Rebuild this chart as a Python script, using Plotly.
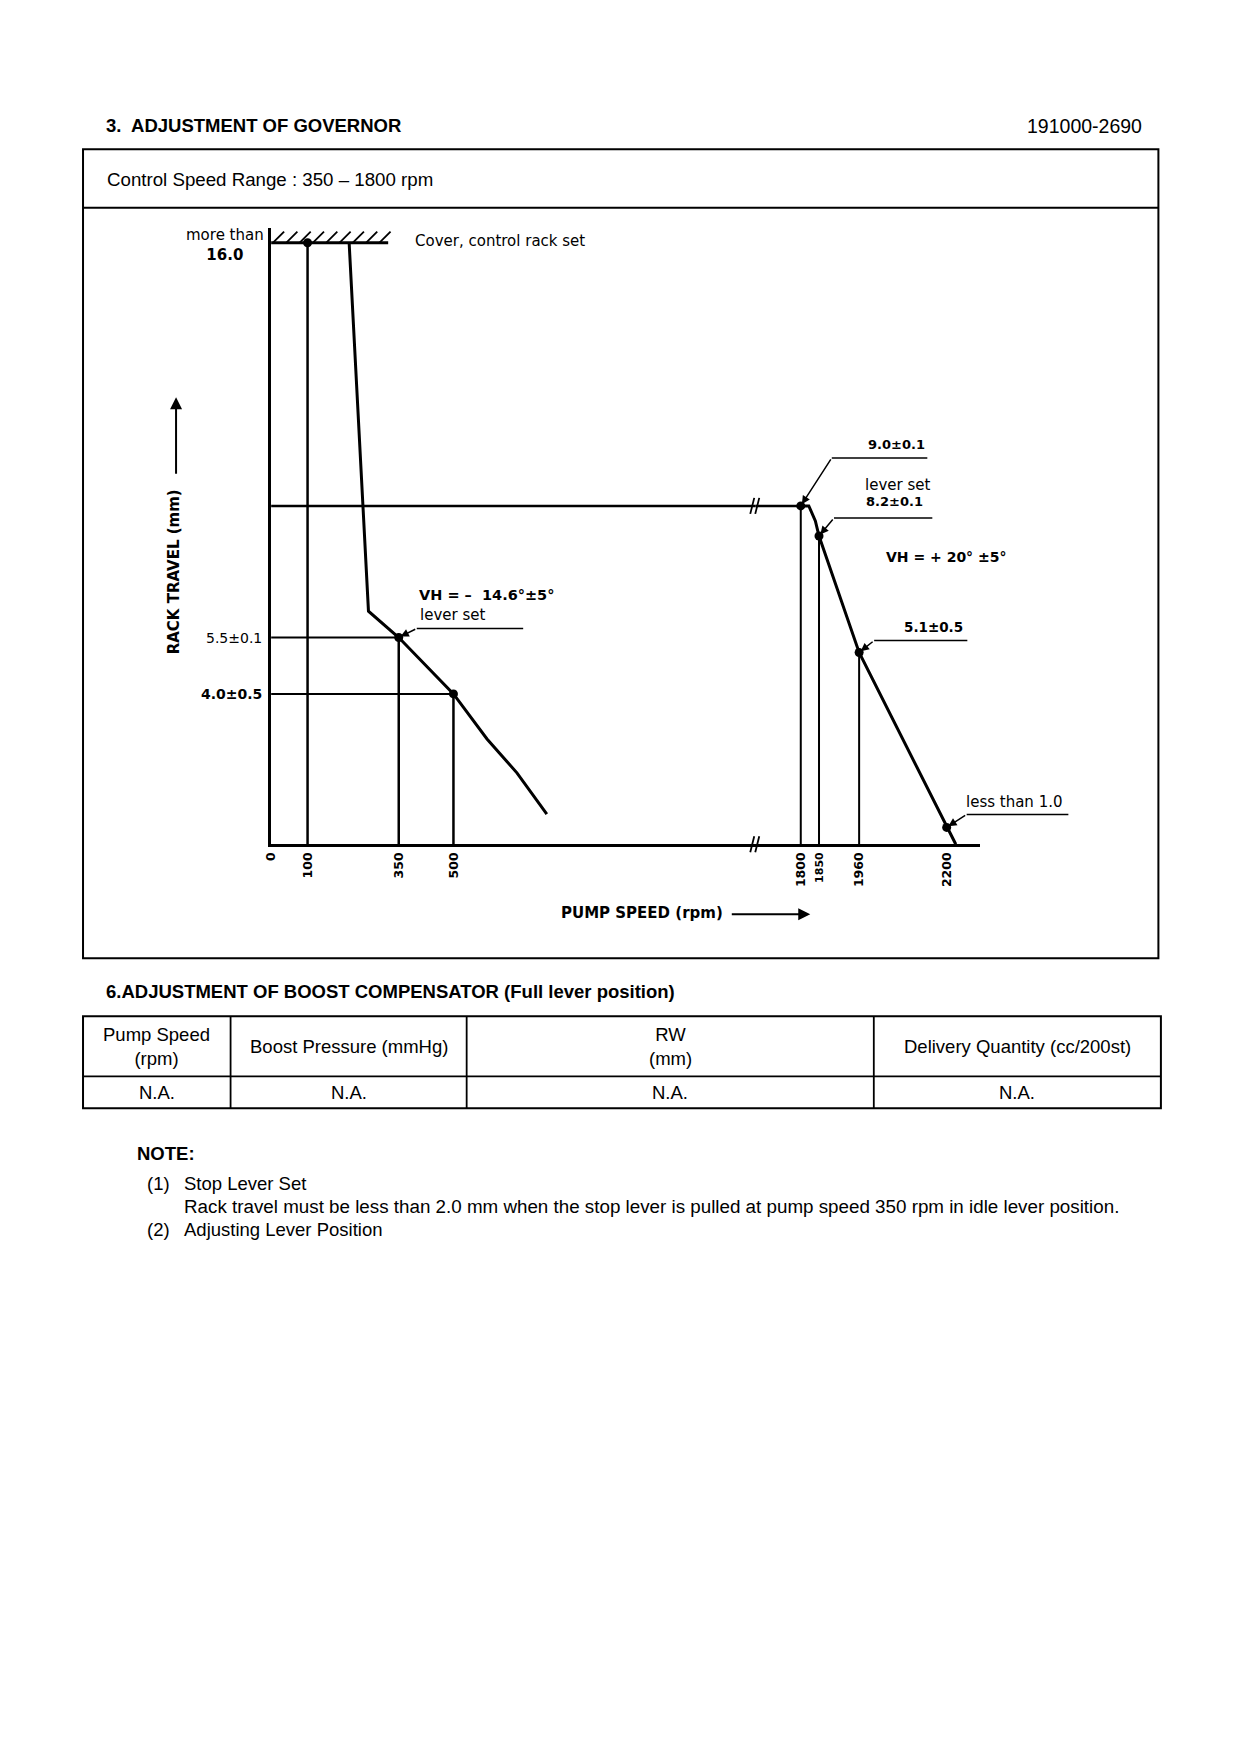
import plotly.graph_objects as go

W, H = 1240, 1754

# ------------------------------------------------------------------ data
# idle-side governor curve (pump speed rpm, rack travel mm)
idle_speed = [214, 267, 350, 500, 592, 674, 756]
idle_rack = [16.0, 6.2, 5.5, 4.0, 2.8, 1.9, 0.8]
# full-load / high-speed governor curve
full_speed = [1800, 1822, 1840, 1850, 1960, 2200, 2225]
full_rack = [9.0, 9.0, 8.6, 8.2, 5.1, 0.45, 0.0]

# adjustment set points
idle_set_speed = [100, 350, 500]
idle_set_rack = [16.0, 5.5, 4.0]
full_set_speed = [1800, 1850, 1960, 2200]
full_set_rack = [9.0, 8.2, 5.1, 0.45]

# cover / control rack set line
cover_rack = 16.0
cover_speed = [0, 321]
# full-load rack horizontal reference
full_load_rack = 9.0
full_load_speed = [0, 1800]

left_ticks = [0, 100, 350, 500]
right_ticks = [1800, 1850, 1960, 2200]
right_ticktext = ["1800", "<span style='font-size:11px'>1850</span>", "1960", "2200"]

table_header = ["Pump Speed<br>(rpm)", "Boost Pressure (mmHg)", "RW<br>(mm)",
                "Delivery Quantity (cc/200st)"]
table_row = ["N.A.", "N.A.", "N.A.", "N.A."]

# ------------------------------------------------------------------ geometry (pixels)
XL0 = 271          # x pixel of 0 rpm / y axis
XBRK = 755         # axis break
XR_END = 980       # right end of x axis
Y0 = 844           # x axis pixel row
YTOP = 228         # top of y axis
SX = 0.3646        # px per rpm
SY = 37.6          # px per mm
R_ANCH_V, R_ANCH_P = 1952.5, 856.1

left_range = [0, (XBRK - XL0) / SX]
right_range = [R_ANCH_V + (XBRK - R_ANCH_P) / SX, R_ANCH_V + (XR_END - R_ANCH_P) / SX]
y_range = [0, (Y0 - YTOP) / SY]

# page offset compensation (page margin of the html body)
OFF_X, SC_X, OFF_Y = 16.0, 0.9932, 7.7


def X(px):
    return ((px - OFF_X) / SC_X) / W


def Y(py):
    return 1 - (py - OFF_Y) / H


def pxl(v):
    return XL0 + (v - left_range[0]) * SX


def pxr(v):
    return R_ANCH_P + (v - R_ANCH_V) * SX


def pyv(r):
    return Y0 - r * SY


BLACK = "black"
CH = "DejaVu Sans"
DOC = "Liberation Sans, Arial, sans-serif"

fig = go.Figure()


def line(xs, ys, axis="x", width=2.5):
    fig.add_trace(go.Scatter(x=xs, y=ys, xaxis=axis, yaxis="y", mode="lines",
                             line=dict(color=BLACK, width=width), hoverinfo="skip"))


# vertical drop lines from set points
vx, vy = [], []
for s, r in zip(idle_set_speed, idle_set_rack):
    vx += [s, s, None]
    vy += [0, r, None]
line(vx, vy, "x", 2.5)
vx, vy = [], []
for s, r in zip(full_set_speed[:3], full_set_rack[:3]):
    vx += [s, s, None]
    vy += [0, r, None]
line(vx, vy, "x2", 2)

# horizontal reference lines at 5.5 and 4.0
hx, hy = [], []
for s, r in zip(idle_set_speed[1:], idle_set_rack[1:]):
    hx += [0, s, None]
    hy += [r, r, None]
line(hx, hy, "x", 2)

# full-load rack line (spans the broken axis)
line(full_load_speed, [full_load_rack] * 2, "x", 2.5)
line(full_load_speed, [full_load_rack] * 2, "x2", 2.5)

# cover line
line(cover_speed, [cover_rack] * 2, "x", 3)

# governor curves
line(idle_speed, idle_rack, "x", 3)
line(full_speed, full_rack, "x2", 3)

# set point dots
fig.add_trace(go.Scatter(x=idle_set_speed, y=idle_set_rack, xaxis="x", yaxis="y", mode="markers",
                         marker=dict(color=BLACK, size=9), hoverinfo="skip"))
fig.add_trace(go.Scatter(x=full_set_speed, y=full_set_rack, xaxis="x2", yaxis="y", mode="markers",
                         marker=dict(color=BLACK, size=9), hoverinfo="skip"))

shapes = []
ann = []


def pline(x0, y0, x1, y1, w=1.5):
    shapes.append(dict(type="line", xref="paper", yref="paper", x0=X(x0), y0=Y(y0),
                       x1=X(x1), y1=Y(y1), line=dict(color=BLACK, width=w)))


def text(t, x, y, xanchor="left", size=15, family=CH, bold=False, align="left", angle=0):
    ann.append(dict(text=(f"<b>{t}</b>" if bold else t), x=X(x), y=Y(y), xref="paper", yref="paper",
                    xanchor=xanchor, yanchor="middle", showarrow=False, align=align,
                    textangle=angle, font=dict(family=family, size=size, color=BLACK)))


# hatching above the cover line
cy = pyv(cover_rack)
hx0, hx1 = pxl(cover_speed[0]) + 2, pxl(cover_speed[1])
k = 0
while hx0 + k * 13.3 <= hx1:
    xb = hx0 + k * 13.3
    pline(xb, cy, xb + 11, cy - 11, 1.8)
    k += 1

# axis break glyphs
for by in (pyv(full_load_rack), Y0):
    for off in (-3, 2):
        pline(XBRK + off - 2, by + 8, XBRK + off + 2, by - 8, 1.8)


# leaders: arrow to point + horizontal segment
def leader(axis, s, r, dx, dy, end_px):
    ann.append(dict(x=s, y=r, xref=axis, yref="y", ax=dx, ay=dy, text="", showarrow=True,
                    arrowhead=2, arrowsize=1.1, arrowwidth=1.5, arrowcolor=BLACK, standoff=2))
    p = pxl(s) if axis == "x" else pxr(s)
    kx, ky = p + dx, pyv(r) + dy
    pline(kx, ky, end_px, ky, 1.5)
    return kx, ky


kx, ky = leader("x", idle_set_speed[1], idle_set_rack[1], 18, -9, 523)
text("VH = –  14.6°±5°", kx, ky - 34, size=14.5, bold=True)
text("lever set", kx + 1, ky - 13, size=15)

kx, ky = leader("x2", full_set_speed[0], full_set_rack[0], 31, -48, 927)
text("9.0±0.1", 927, ky - 13, xanchor="right", size=13, bold=True)

kx, ky = leader("x2", full_set_speed[1], full_set_rack[1], 15, -18, 932)
text("lever set", 932, ky - 33, xanchor="right", size=15)
text("8.2±0.1", 925, ky - 16, xanchor="right", size=13, bold=True)

text("VH = + 20° ±5°", 884, 557, size=14, bold=True)

kx, ky = leader("x2", full_set_speed[2], full_set_rack[2], 15, -12, 967)
text("5.1±0.5", 965, ky - 14, xanchor="right", size=13.5, bold=True)

kx, ky = leader("x2", full_set_speed[3], full_set_rack[3], 20, -13, 1068)
text("less than 1.0", 1065, ky - 12, xanchor="right", size=15)

# y-side value labels
text("more than<br><b>16.0</b>", 266, pyv(cover_rack) + 2, xanchor="right", size=15, align="center")
text("Cover, control rack set", 413, pyv(cover_rack) - 2, size=15)
text("5.5±0.1", 264, pyv(idle_set_rack[1]), xanchor="right", size=14)
text("4.0±0.5", 264, pyv(idle_set_rack[2]), xanchor="right", size=14, bold=True)

# axis titles with arrows
text("RACK TRAVEL (mm)", 174, 572, xanchor="center", size=15, bold=True, angle=-90)
ann.append(dict(x=X(176), y=Y(397), xref="paper", yref="paper", ax=0, ay=78, text="",
                showarrow=True, arrowhead=2, arrowsize=1.2, arrowwidth=2, arrowcolor=BLACK))
text("PUMP SPEED (rpm)", 559, 913, size=15, bold=True)
ann.append(dict(x=X(810), y=Y(914), xref="paper", yref="paper", ax=-80, ay=0, text="",
                showarrow=True, arrowhead=2, arrowsize=1.2, arrowwidth=2, arrowcolor=BLACK))

# ------------------------------------------------------------------ document frame
text("3.  ADJUSTMENT OF GOVERNOR", 104, 125, size=18.5, family=DOC, bold=True)
text("191000-2690", 1144, 126, xanchor="right", size=19.5, family=DOC)
shapes.append(dict(type="rect", xref="paper", yref="paper", x0=X(83), y0=Y(958), x1=X(1158), y1=Y(149),
                   line=dict(color=BLACK, width=2)))
pline(83, 207.5, 1158, 207.5, 2)
text("Control Speed Range : 350 – 1800 rpm", 105, 179, size=18.7, family=DOC)

text("6.ADJUSTMENT OF BOOST COMPENSATOR (Full lever position)", 104, 991, size=18.5, family=DOC, bold=True)
shapes.append(dict(type="rect", xref="paper", yref="paper", x0=X(83), y0=Y(1108), x1=X(1160.5), y1=Y(1016),
                   line=dict(color=BLACK, width=2)))
pline(83, 1076, 1160.5, 1076, 1.8)
cols = [83, 230.5, 466.5, 873.5, 1160.5]
for c in cols[1:-1]:
    pline(c, 1016, c, 1108, 1.8)
for i in range(4):
    cx = (cols[i] + cols[i + 1]) / 2
    text(table_header[i], cx, 1046, xanchor="center", size=18.5, family=DOC, align="center")
    text(table_row[i], cx, 1092, xanchor="center", size=18.5, family=DOC)

text("NOTE:", 135, 1153, size=18.5, family=DOC, bold=True)
text("(1)", 145, 1183, size=18.5, family=DOC)
text("Stop Lever Set", 182, 1183, size=18.5, family=DOC)
text("Rack travel must be less than 2.0 mm when the stop lever is pulled at pump speed 350 rpm in idle lever position.",
     182, 1206, size=18.8, family=DOC)
text("(2)", 145, 1229, size=18.5, family=DOC)
text("Adjusting Lever Position", 182, 1229, size=18.5, family=DOC)

# ------------------------------------------------------------------ axes
common_x = dict(showline=True, linewidth=3, linecolor=BLACK, showgrid=False, zeroline=False,
                ticks="", tickangle=-90, anchor="y", fixedrange=True, ticklabelstandoff=0,
                tickfont=dict(family=CH, size=12.5, color=BLACK, weight="bold"))
fig.update_layout(
    width=W, height=H, margin=dict(l=0, r=0, t=0, b=0),
    paper_bgcolor="white", plot_bgcolor="rgba(0,0,0,0)", showlegend=False,
    xaxis=dict(domain=[X(XL0), X(XBRK)], range=left_range, tickvals=left_ticks,
               ticktext=[str(v) for v in left_ticks], **common_x),
    xaxis2=dict(domain=[X(XBRK), X(XR_END)], range=right_range, tickvals=right_ticks,
                ticktext=right_ticktext, **common_x),
    yaxis=dict(domain=[Y(Y0), Y(YTOP)], range=y_range, showline=True, linewidth=3, linecolor=BLACK,
               showgrid=False, zeroline=False, showticklabels=False, ticks="", anchor="x", fixedrange=True),
    shapes=shapes, annotations=ann,
)

fig.write_html("out.html")
